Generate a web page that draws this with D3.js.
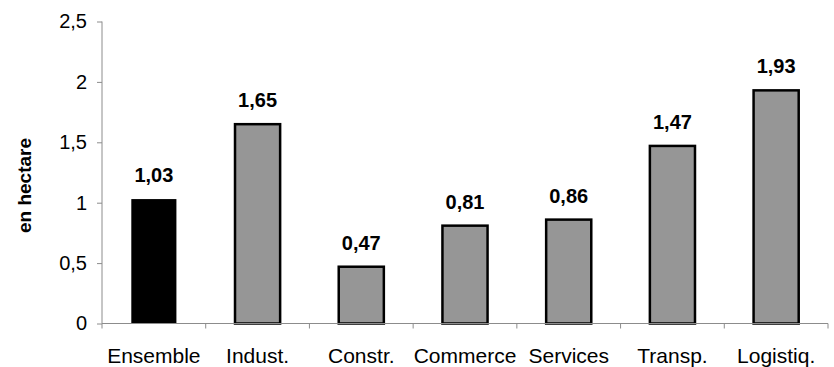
<!DOCTYPE html>
<html><head><meta charset="utf-8">
<script src="https://cdn.jsdelivr.net/npm/d3@7"></script>
<style>body{margin:0;background:#fff}svg{display:block}text{font-family:"Liberation Sans",Arial,sans-serif}</style>
</head><body>
<svg id="c" width="834" height="367"></svg>
<script>
const categories = ["Ensemble","Indust.","Constr.","Commerce","Services","Transp.","Logistiq."];
const values = [1.03,1.65,0.47,0.81,0.86,1.47,1.93];
const yTicks = [0,0.5,1,1.5,2,2.5];
const yTitle = "en hectare";

const svg = d3.select("#c");
const m = {left:102, top:21.5, right:6, bottom:43.5};
const W = 834 - m.left - m.right, H = 367 - m.top - m.bottom;
const g = svg.append("g").attr("transform",`translate(${m.left},${m.top})`);
const x = d3.scaleBand().domain(categories).range([0,W]).paddingInner(0.565).paddingOuter(0.2825);
const y = d3.scaleLinear().domain([0,2.5]).range([H,0]);
const fmt = v => String(v).replace(".", ",");

// bars
g.selectAll("rect.bar").data(values).enter().append("rect")
  .attr("class","bar")
  .attr("x",(d,i)=>x(categories[i]))
  .attr("width",x.bandwidth())
  .attr("y",d=>y(d))
  .attr("height",d=>H-y(d))
  .attr("fill",(d,i)=>i===0?"#000":"#969696")
  .attr("stroke","#000").attr("stroke-width",(d,i)=>i===0?0:2.5);

// value labels
g.selectAll("text.val").data(values).enter().append("text")
  .attr("class","val")
  .attr("x",(d,i)=>x(categories[i])+x.bandwidth()/2)
  .attr("y",d=>y(d)-17)
  .attr("text-anchor","middle").attr("font-weight","bold").attr("font-size",20)
  .attr("fill","#000")
  .text(d=>d.toFixed(2).replace(".",","));

// y axis
const ya = g.append("g").call(d3.axisLeft(y).tickValues(yTicks).tickSize(5).tickPadding(10).tickFormat(fmt));
ya.select(".domain").attr("stroke","#8c8c8c").attr("d",`M0,${H}V0`);
ya.selectAll(".tick line").attr("stroke","#8c8c8c");
ya.selectAll(".tick text").attr("font-size",20).attr("fill","#000").attr("font-family","Liberation Sans, Arial, sans-serif");

// x axis
const xa = g.append("g").attr("transform",`translate(0,${H})`)
  .call(d3.axisBottom(x).tickSize(0).tickPadding(25));
xa.select(".domain").attr("stroke","#8c8c8c").attr("d",`M0,0H${W}`);
xa.selectAll(".tick text").attr("font-size",21).attr("fill","#000").attr("font-family","Liberation Sans, Arial, sans-serif");
// category boundary ticks
const bounds = d3.range(categories.length+1).map(i=> i*W/categories.length);
xa.selectAll("line.bt").data(bounds).enter().append("line")
  .attr("class","bt").attr("x1",d=>d).attr("x2",d=>d).attr("y1",0).attr("y2",5)
  .attr("stroke","#8c8c8c");

// y title
svg.append("text")
  .attr("transform",`translate(31,${m.top+H/2+13}) rotate(-90)`)
  .attr("text-anchor","middle").attr("font-weight","bold").attr("font-size",19)
  .text(yTitle);
</script>
</body></html>
